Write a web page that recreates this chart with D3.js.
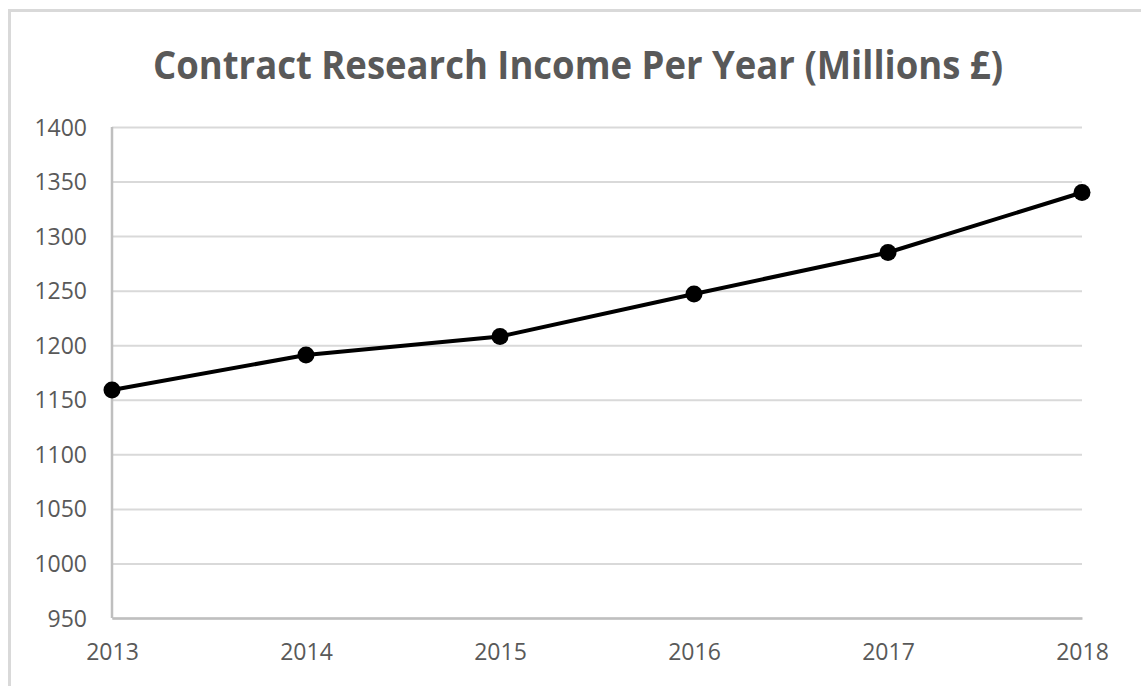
<!DOCTYPE html>
<html>
<head>
<meta charset="utf-8">
<script src="https://cdn.jsdelivr.net/npm/d3@7"></script>
<style>
  html, body { margin: 0; padding: 0; background: #fff; }
  svg { display: block; }
</style>
</head>
<body>
<svg id="chart" width="1141" height="686"></svg>
<script>
// Contract research income, millions of pounds
const years = ["2013", "2014", "2015", "2016", "2017", "2018"];
const income = [1159, 1191, 1208, 1247, 1285, 1340];
const yTicks = [950, 1000, 1050, 1100, 1150, 1200, 1250, 1300, 1350, 1400];
const title = "Contract Research Income Per Year (Millions £)";

const svg = d3.select("#chart");
const W = 1141, H = 686;
const margin = { left: 112, right: 59, top: 127, bottom: 68 };
const textColor = "#595959";
const font = "'Open Sans', 'Noto Sans', sans-serif";

// outer chart frame
svg.append("rect")
  .attr("x", 9.5).attr("y", 10.5)
  .attr("width", W + 20).attr("height", H + 20)
  .attr("fill", "#fff")
  .attr("stroke", "#d9d9d9").attr("stroke-width", 3);

const x = d3.scalePoint()
  .domain(years)
  .range([margin.left, W - margin.right]);

const y = d3.scaleLinear()
  .domain([950, 1400])
  .range([H - margin.bottom, margin.top]);

// horizontal gridlines
svg.append("g")
  .attr("transform", `translate(${margin.left},0)`)
  .call(d3.axisLeft(y).tickValues(yTicks).tickSize(-(W - margin.right - margin.left)).tickFormat(""))
  .call(g => g.select(".domain").remove())
  .call(g => g.selectAll(".tick line").attr("stroke", "#d9d9d9").attr("stroke-width", 2));

// y axis labels
svg.append("g")
  .attr("transform", `translate(${margin.left - 25},0)`)
  .call(d3.axisLeft(y).tickValues(yTicks).tickSize(0).tickFormat(d3.format("d")))
  .call(g => g.select(".domain").remove())
  .call(g => g.selectAll(".tick text")
    .attr("fill", textColor)
    .attr("font-family", font)
    .attr("font-size", 23)
    .attr("x", 0)
    .attr("dy", "0.35em"));

// left axis line
svg.append("line")
  .attr("x1", margin.left).attr("x2", margin.left)
  .attr("y1", margin.top).attr("y2", H - margin.bottom)
  .attr("stroke", "#bfbfbf").attr("stroke-width", 2.5);

// bottom axis line and year labels
svg.append("g")
  .attr("transform", `translate(0,${H - margin.bottom})`)
  .call(d3.axisBottom(x).tickSize(0).tickPadding(26))
  .call(g => g.select(".domain").attr("stroke", "#bfbfbf").attr("stroke-width", 2.5))
  .call(g => g.selectAll(".tick text")
    .attr("fill", textColor)
    .attr("font-family", font)
    .attr("font-size", 23));

// title
svg.append("text")
  .attr("x", 578).attr("y", 79)
  .attr("text-anchor", "middle")
  .attr("fill", textColor)
  .attr("font-family", font)
  .attr("font-weight", "bold")
  .attr("font-size", 40)
  .attr("textLength", 850)
  .attr("lengthAdjust", "spacingAndGlyphs")
  .text(title);

const data = years.map((yr, i) => ({ year: yr, value: income[i] }));

// income line
svg.append("path")
  .datum(data)
  .attr("fill", "none")
  .attr("stroke", "#000")
  .attr("stroke-width", 4)
  .attr("stroke-linejoin", "round")
  .attr("d", d3.line().x(d => x(d.year)).y(d => y(d.value)));

// point markers
svg.append("g")
  .selectAll("circle")
  .data(data)
  .join("circle")
  .attr("cx", d => x(d.year))
  .attr("cy", d => y(d.value))
  .attr("r", 8.5)
  .attr("fill", "#000");
</script>
</body>
</html>
